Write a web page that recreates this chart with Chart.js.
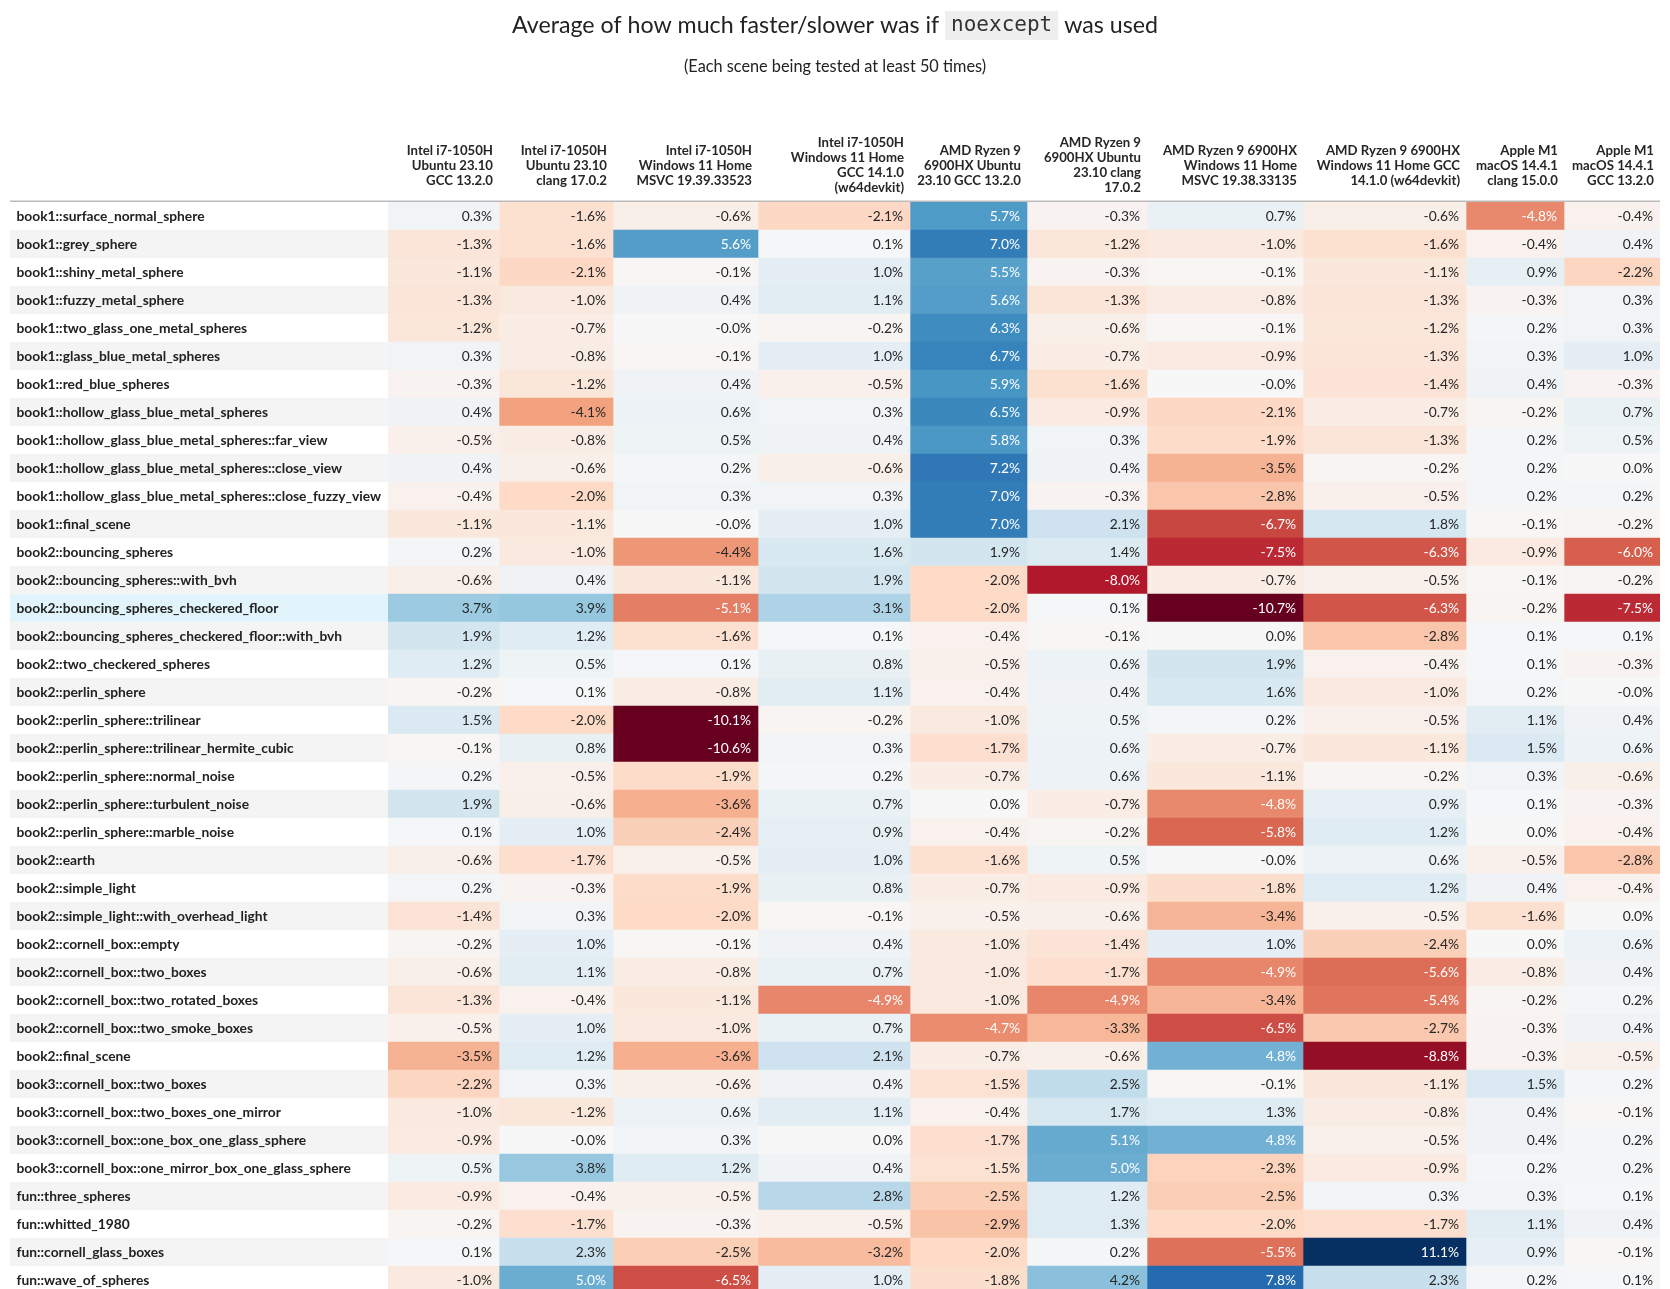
<!DOCTYPE html>
<html><head><meta charset="utf-8">
<script src="https://cdn.jsdelivr.net/npm/chart.js@4.4.1/dist/chart.umd.min.js"></script>
<style>
html,body{margin:0;padding:0;background:#fff;}
#wrap{width:1670px;height:1289px;overflow:hidden;position:relative;}
canvas{display:block;}
</style></head><body>
<div id="wrap"><canvas id="c" width="1670" height="1294"></canvas></div>
<script>
// ---------- DATA ----------
const scenes = [
 'book1::surface_normal_sphere','book1::grey_sphere','book1::shiny_metal_sphere','book1::fuzzy_metal_sphere',
 'book1::two_glass_one_metal_spheres','book1::glass_blue_metal_spheres','book1::red_blue_spheres',
 'book1::hollow_glass_blue_metal_spheres','book1::hollow_glass_blue_metal_spheres::far_view',
 'book1::hollow_glass_blue_metal_spheres::close_view','book1::hollow_glass_blue_metal_spheres::close_fuzzy_view',
 'book1::final_scene','book2::bouncing_spheres','book2::bouncing_spheres::with_bvh',
 'book2::bouncing_spheres_checkered_floor','book2::bouncing_spheres_checkered_floor::with_bvh',
 'book2::two_checkered_spheres','book2::perlin_sphere','book2::perlin_sphere::trilinear',
 'book2::perlin_sphere::trilinear_hermite_cubic','book2::perlin_sphere::normal_noise',
 'book2::perlin_sphere::turbulent_noise','book2::perlin_sphere::marble_noise','book2::earth',
 'book2::simple_light','book2::simple_light::with_overhead_light','book2::cornell_box::empty',
 'book2::cornell_box::two_boxes','book2::cornell_box::two_rotated_boxes','book2::cornell_box::two_smoke_boxes',
 'book2::final_scene','book3::cornell_box::two_boxes','book3::cornell_box::two_boxes_one_mirror',
 'book3::cornell_box::one_box_one_glass_sphere','book3::cornell_box::one_mirror_box_one_glass_sphere',
 'fun::three_spheres','fun::whitted_1980','fun::cornell_glass_boxes','fun::wave_of_spheres'
];

const columnHeaders = [
 ['Intel i7-1050H','Ubuntu 23.10','GCC 13.2.0'],
 ['Intel i7-1050H','Ubuntu 23.10','clang 17.0.2'],
 ['Intel i7-1050H','Windows 11 Home','MSVC 19.39.33523'],
 ['Intel i7-1050H','Windows 11 Home','GCC 14.1.0','(w64devkit)'],
 ['AMD Ryzen 9','6900HX Ubuntu','23.10 GCC 13.2.0'],
 ['AMD Ryzen 9','6900HX Ubuntu','23.10 clang','17.0.2'],
 ['AMD Ryzen 9 6900HX','Windows 11 Home','MSVC 19.38.33135'],
 ['AMD Ryzen 9 6900HX','Windows 11 Home GCC','14.1.0 (w64devkit)'],
 ['Apple M1','macOS 14.4.1','clang 15.0.0'],
 ['Apple M1','macOS 14.4.1','GCC 13.2.0']
];

const intelUbuntuGcc   = [0.3,-1.3,-1.1,-1.3,-1.2,0.3,-0.3,0.4,-0.5,0.4,-0.4,-1.1,0.2,-0.6,3.7,1.9,1.2,-0.2,1.5,-0.1,0.2,1.9,0.1,-0.6,0.2,-1.4,-0.2,-0.6,-1.3,-0.5,-3.5,-2.2,-1.0,-0.9,0.5,-0.9,-0.2,0.1,-1.0];
const intelUbuntuClang = [-1.6,-1.6,-2.1,-1.0,-0.7,-0.8,-1.2,-4.1,-0.8,-0.6,-2.0,-1.1,-1.0,0.4,3.9,1.2,0.5,0.1,-2.0,0.8,-0.5,-0.6,1.0,-1.7,-0.3,0.3,1.0,1.1,-0.4,1.0,1.2,0.3,-1.2,-0.0,3.8,-0.4,-1.7,2.3,5.0];
const intelWinMsvc     = [-0.6,5.6,-0.1,0.4,-0.0,-0.1,0.4,0.6,0.5,0.2,0.3,-0.0,-4.4,-1.1,-5.1,-1.6,0.1,-0.8,-10.1,-10.6,-1.9,-3.6,-2.4,-0.5,-1.9,-2.0,-0.1,-0.8,-1.1,-1.0,-3.6,-0.6,0.6,0.3,1.2,-0.5,-0.3,-2.5,-6.5];
const intelWinGcc      = [-2.1,0.1,1.0,1.1,-0.2,1.0,-0.5,0.3,0.4,-0.6,0.3,1.0,1.6,1.9,3.1,0.1,0.8,1.1,-0.2,0.3,0.2,0.7,0.9,1.0,0.8,-0.1,0.4,0.7,-4.9,0.7,2.1,0.4,1.1,0.0,0.4,2.8,-0.5,-3.2,1.0];
const amdUbuntuGcc     = [5.7,7.0,5.5,5.6,6.3,6.7,5.9,6.5,5.8,7.2,7.0,7.0,1.9,-2.0,-2.0,-0.4,-0.5,-0.4,-1.0,-1.7,-0.7,0.0,-0.4,-1.6,-0.7,-0.5,-1.0,-1.0,-1.0,-4.7,-0.7,-1.5,-0.4,-1.7,-1.5,-2.5,-2.9,-2.0,-1.8];
const amdUbuntuClang   = [-0.3,-1.2,-0.3,-1.3,-0.6,-0.7,-1.6,-0.9,0.3,0.4,-0.3,2.1,1.4,-8.0,0.1,-0.1,0.6,0.4,0.5,0.6,0.6,-0.7,-0.2,0.5,-0.9,-0.6,-1.4,-1.7,-4.9,-3.3,-0.6,2.5,1.7,5.1,5.0,1.2,1.3,0.2,4.2];
const amdWinMsvc       = [0.7,-1.0,-0.1,-0.8,-0.1,-0.9,-0.0,-2.1,-1.9,-3.5,-2.8,-6.7,-7.5,-0.7,-10.7,0.0,1.9,1.6,0.2,-0.7,-1.1,-4.8,-5.8,-0.0,-1.8,-3.4,1.0,-4.9,-3.4,-6.5,4.8,-0.1,1.3,4.8,-2.3,-2.5,-2.0,-5.5,7.8];
const amdWinGcc        = [-0.6,-1.6,-1.1,-1.3,-1.2,-1.3,-1.4,-0.7,-1.3,-0.2,-0.5,1.8,-6.3,-0.5,-6.3,-2.8,-0.4,-1.0,-0.5,-1.1,-0.2,0.9,1.2,0.6,1.2,-0.5,-2.4,-5.6,-5.4,-2.7,-8.8,-1.1,-0.8,-0.5,-0.9,0.3,-1.7,11.1,2.3];
const appleClang       = [-4.8,-0.4,0.9,-0.3,0.2,0.3,0.4,-0.2,0.2,0.2,0.2,-0.1,-0.9,-0.1,-0.2,0.1,0.1,0.2,1.1,1.5,0.3,0.1,0.0,-0.5,0.4,-1.6,0.0,-0.8,-0.2,-0.3,-0.3,1.5,0.4,0.4,0.2,0.3,1.1,0.9,0.2];
const appleGcc         = [-0.4,0.4,-2.2,0.3,0.3,1.0,-0.3,0.7,0.5,0.0,0.2,-0.2,-6.0,-0.2,-7.5,0.1,-0.3,-0.0,0.4,0.6,-0.6,-0.3,-0.4,-2.8,-0.4,0.0,0.6,0.4,0.2,0.4,-0.5,0.2,-0.1,0.2,0.2,0.1,0.4,-0.1,0.1];

const seriesValues = [intelUbuntuGcc,intelUbuntuClang,intelWinMsvc,intelWinGcc,amdUbuntuGcc,amdUbuntuClang,amdWinMsvc,amdWinGcc,appleClang,appleGcc];

// ---------- LAYOUT (not data) ----------
const colWidths = [111,114,145,152,117,120,156,163,98,96];
const highlightRow = 14;
const FONT = "Lato, 'Noto Sans', sans-serif";

// ---------- COLOR MAP (RdBu, centred at 0, range ±10) ----------
const RDBU = ['#67001f','#b2182b','#d6604d','#f4a582','#fddbc7','#f7f7f7','#d1e5f0','#92c5de','#4393c3','#2166ac','#053061'];
function hex2rgb(h){return [parseInt(h.slice(1,3),16),parseInt(h.slice(3,5),16),parseInt(h.slice(5,7),16)];}
const RDBU_RGB = RDBU.map(hex2rgb);
function cmapRGB(v){
  let t=(v+10)/20; t=Math.max(0,Math.min(1,t));
  const p=t*10; const i=Math.min(9,Math.floor(p)); const f=p-i;
  const a=RDBU_RGB[i], b=RDBU_RGB[i+1];
  return [0,1,2].map(k=>Math.round(a[k]+(b[k]-a[k])*f));
}
function cmap(v){const c=cmapRGB(v);return `rgb(${c[0]},${c[1]},${c[2]})`;}
function textColor(v){
  const c=cmapRGB(v).map(x=>{x/=255;return x<=0.03928?x/12.92:Math.pow((x+0.055)/1.055,2.4);});
  const lum=c[0]*0.2126+c[1]*0.7152+c[2]*0.0722;
  return lum>0.408?'#262626':'#ffffff';
}
function fmt(v){const neg=v<0||Object.is(v,-0);return (neg?'-':'')+Math.abs(v).toFixed(1)+'%';}

const totalWidth = colWidths.reduce((a,b)=>a+b,0);

const datasets = seriesValues.map((vals,j)=>({
  label: columnHeaders[j].join(' '),
  data: scenes.map(()=>colWidths[j]),
  backgroundColor: vals.map(cmap),
  borderWidth: 0,
  barPercentage: 1,
  categoryPercentage: 1,
  stack: 'heat'
}));

const heatPlugin = {
  id: 'heat',
  beforeDraw(chart){
    const ctx=chart.ctx, y=chart.scales.y, ca=chart.chartArea;
    ctx.save();
    ctx.fillStyle='#fff'; ctx.fillRect(0,0,chart.width,chart.height);
    const h = y.getPixelForValue(1)-y.getPixelForValue(0);
    scenes.forEach((s,i)=>{
      const yc=y.getPixelForValue(i);
      ctx.fillStyle = i===highlightRow ? '#e1f3fb' : (i%2 ? '#f4f4f4' : '#ffffff');
      ctx.fillRect(10, yc-h/2, ca.left-10, h);
    });
    // row labels (category axis labels)
    ctx.font = `bold 13.8px ${FONT}`;
    ctx.fillStyle = '#222'; ctx.textAlign='left'; ctx.textBaseline='middle';
    scenes.forEach((s,i)=>{ ctx.fillText(s, 16.5, y.getPixelForValue(i)+0.5); });
    ctx.restore();
  },
  afterDatasetsDraw(chart){
    const ctx=chart.ctx;
    ctx.save();
    ctx.font = `13.8px ${FONT}`;
    ctx.textAlign='right'; ctx.textBaseline='middle';
    seriesValues.forEach((vals,j)=>{
      const meta=chart.getDatasetMeta(j);
      meta.data.forEach((el,i)=>{
        ctx.fillStyle=textColor(vals[i]);
        ctx.fillText(fmt(vals[i]), el.x-7, el.y+0.5);
      });
    });
    ctx.restore();
  },
  afterDraw(chart){
    const ctx=chart.ctx, ca=chart.chartArea;
    ctx.save();
    // column headers
    ctx.font = `bold 13.2px ${FONT}`;
    ctx.fillStyle='#262626'; ctx.textAlign='right'; ctx.textBaseline='middle';
    columnHeaders.forEach((lines,j)=>{
      const el=chart.getDatasetMeta(j).data[0];
      const lh=15, n=lines.length, cy=165.5;
      lines.forEach((ln,k)=>{
        ctx.fillText(ln, el.x-6, cy+(k-(n-1)/2)*lh);
      });
    });
    // header rule
    ctx.strokeStyle='#bbbbbb'; ctx.lineWidth=1.5;
    ctx.beginPath(); ctx.moveTo(10, ca.top-0.75); ctx.lineTo(ca.right, ca.top-0.75); ctx.stroke();
    // title with inline code
    const t1='Average of how much faster/slower was if ', code='noexcept', t2=' was used';
    const tf=`23.2px ${FONT}`, cf=`21px 'DejaVu Sans Mono', monospace`;
    ctx.font=tf; const w1=ctx.measureText(t1).width, w2=ctx.measureText(t2).width;
    ctx.font=cf; const wc=ctx.measureText(code).width;
    const padC=6;
    const total=w1+wc+2*padC+w2;
    let x=chart.width/2-total/2; const ty=26;
    ctx.textAlign='left'; ctx.textBaseline='middle';
    ctx.font=tf; ctx.fillStyle='#222'; ctx.fillText(t1,x,ty); x+=w1;
    ctx.fillStyle='#eeeeee'; ctx.fillRect(x, 11, wc+2*padC, 29);
    ctx.font=cf; ctx.fillStyle='#333'; ctx.fillText(code,x+padC,ty); x+=wc+2*padC;
    ctx.font=tf; ctx.fillStyle='#222'; ctx.fillText(t2,x,ty);
    // subtitle
    ctx.font=`16.3px ${FONT}`; ctx.textAlign='center'; ctx.fillStyle='#222';
    ctx.fillText('(Each scene being tested at least 50 times)', chart.width/2, 66.5);
    ctx.restore();
  }
};

new Chart(document.getElementById('c'), {
  type: 'bar',
  data: { labels: scenes, datasets },
  options: {
    indexAxis: 'y',
    responsive: false,
    animation: false,
    events: [],
    layout: { autoPadding: false, padding: { left: 388, right: 10, top: 202, bottom: 0 } },
    plugins: { legend: { display: false }, tooltip: { enabled: false }, title: { display: false } },
    scales: {
      x: { type: 'linear', stacked: true, min: 0, max: totalWidth, display: false },
      y: { type: 'category', stacked: true, offset: true, display: false }
    }
  },
  plugins: [heatPlugin]
});
</script>
</body></html>
